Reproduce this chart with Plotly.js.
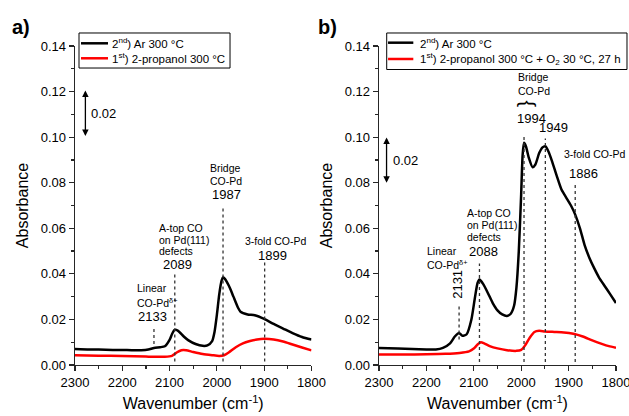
<!DOCTYPE html>
<html><head><meta charset="utf-8">
<script src="https://cdn.plot.ly/plotly-3.0.1.min.js"></script>
<style>html,body{margin:0;padding:0;background:#fff}#chart{width:629px;height:416px}</style>
</head><body><div id="chart"></div>
<script>
// ---- Panel a data ----
const wnA_black = [2300,2270,2250,2220,2200,2180,2160,2145,2133,2120,2110,2100,2095,2089,2082,2070,2060,2045,2030,2020,2010,2005,2000,1995,1990,1987,1983,1979,1972,1965,1955,1950,1935,1920,1900,1880,1860,1840,1820,1800];
const absA_black = [0.0070,0.0068,0.0068,0.0066,0.0066,0.0065,0.0065,0.0068,0.0075,0.0078,0.0082,0.0110,0.0135,0.0155,0.0150,0.0125,0.0108,0.0092,0.0084,0.0086,0.0105,0.0145,0.0220,0.0310,0.0370,0.0385,0.0378,0.0365,0.0336,0.0300,0.0250,0.0234,0.0222,0.0218,0.0202,0.0180,0.0160,0.0140,0.0123,0.0112];
const wnA_red = [2300,2250,2200,2150,2110,2095,2085,2075,2065,2050,2030,2010,1995,1985,1975,1960,1945,1930,1915,1900,1880,1860,1840,1820,1800];
const absA_red = [0.0043,0.0041,0.0040,0.0037,0.0036,0.0040,0.0055,0.0065,0.0065,0.0057,0.0048,0.0043,0.0040,0.0043,0.0055,0.0078,0.0095,0.0105,0.0112,0.0115,0.0112,0.0103,0.0090,0.0077,0.0064];

// ---- Panel b data ----
const wnB_black = [2300,2260,2230,2200,2180,2165,2150,2140,2131,2124,2115,2105,2098,2092,2088,2080,2070,2060,2050,2040,2030,2022,2015,2010,2005,2000,1997,1994,1990,1984,1976,1970,1962,1955,1949,1942,1935,1925,1915,1905,1895,1886,1876,1866,1856,1846,1836,1825,1812,1800];
const absB_black = [0.0075,0.0072,0.0070,0.0068,0.0068,0.0075,0.0095,0.0125,0.0140,0.0128,0.0135,0.0200,0.0290,0.0360,0.0375,0.0355,0.0315,0.0272,0.0240,0.0222,0.0215,0.0225,0.0260,0.0340,0.0500,0.0750,0.0920,0.0975,0.0960,0.0910,0.0868,0.0880,0.0930,0.0955,0.0960,0.0935,0.0895,0.0830,0.0770,0.0735,0.0700,0.0660,0.0600,0.0525,0.0470,0.0425,0.0385,0.0350,0.0310,0.0272];
const wnB_red = [2300,2250,2200,2160,2130,2110,2100,2092,2085,2078,2065,2050,2030,2010,2000,1992,1982,1972,1962,1950,1930,1910,1890,1870,1850,1830,1815,1800];
const absB_red = [0.0046,0.0046,0.0047,0.0049,0.0053,0.0060,0.0072,0.0090,0.0100,0.0095,0.0082,0.0073,0.0065,0.0062,0.0066,0.0085,0.0120,0.0145,0.0150,0.0147,0.0145,0.0143,0.0137,0.0125,0.0108,0.0093,0.0083,0.0076];

// ---- Legend names ----
const namesA = ["2<sup>nd</sup>) Ar 300 °C", "1<sup>st</sup>) 2-propanol 300 °C"];
const namesB = ["2<sup>nd</sup>) Ar 300 °C", "1<sup>st</sup>) 2-propanol 300 °C + O<sub>2</sub> 30 °C, 27 h"];
const seriesColors = ['#000000', '#ff0000'];

// ---- Peak marker lines (wavenumber, top, bottom) ----
const peaksA = [2133, 2089, 1987, 1899];
const peakTopA = [0.0165, 0.0400, 0.0697, 0.0453];
const peakBotA = [0.0092, 0.0015, 0.0015, 0.0015];
const peaksB = [2131, 2088, 1994, 1949, 1886];
const peakTopB = [0.0258, 0.0446, 0.1009, 0.0994, 0.0800];
const peakBotB = [0.0112, 0.0013, 0.0013, 0.0013, 0.0013];

const xTickVals = [2300, 2200, 2100, 2000, 1900, 1800];

const FONT = "'Liberation Sans', Arial, sans-serif";
const lineStyle = (c) => ({color: c, width: 2.5, shape: 'spline', smoothing: 0.6});

const traces = [
  {x: wnA_black, y: absA_black, xaxis: 'x', yaxis: 'y', mode: 'lines', line: lineStyle(seriesColors[0]), name: namesA[0], showlegend: false},
  {x: wnA_red, y: absA_red, xaxis: 'x', yaxis: 'y', mode: 'lines', line: lineStyle(seriesColors[1]), name: namesA[1], showlegend: false},
  {x: wnB_black, y: absB_black, xaxis: 'x2', yaxis: 'y2', mode: 'lines', line: lineStyle(seriesColors[0]), name: namesB[0], showlegend: false},
  {x: wnB_red, y: absB_red, xaxis: 'x2', yaxis: 'y2', mode: 'lines', line: lineStyle(seriesColors[1]), name: namesB[1], showlegend: false}
];

const axCol = '#262626';
function xAxis(dom, anchor) {
  return {domain: dom, anchor: anchor, range: [2300, 1800], tickvals: xTickVals, automargin: false, ticklabeloverflow: 'allow',
    showline: true, linecolor: axCol, linewidth: 1.3, ticks: 'outside', ticklen: 5, tickwidth: 1.2, tickcolor: axCol,
    minor: {ticks: 'outside', ticklen: 3, tickwidth: 1.2, tickcolor: axCol, dtick: 50, tick0: 1800, showgrid: false},
    showgrid: false, zeroline: false, tickfont: {size: 13, family: FONT, color: '#000'},
    title: {text: 'Wavenumber (cm<sup>-1</sup>)', font: {size: 16, family: FONT, color: '#000'}, standoff: 9}};
}
function yAxis(dom, anchor) {
  return {domain: dom, anchor: anchor, range: [0, 0.14], dtick: 0.02, tick0: 0, tickformat: '.2f', automargin: false, ticklabeloverflow: 'allow',
    showline: true, linecolor: axCol, linewidth: 1.3, ticks: 'outside', ticklen: 5, tickwidth: 1.2, tickcolor: axCol,
    minor: {ticks: 'outside', ticklen: 3, tickwidth: 1.2, tickcolor: axCol, dtick: 0.01, showgrid: false},
    showgrid: false, zeroline: false, tickfont: {size: 13, family: FONT, color: '#000'},
    title: {text: 'Absorbance', font: {size: 16, family: FONT, color: '#000'}, standoff: 8}};
}

const shapes = [];
peaksA.forEach((p, i) => shapes.push({type: 'line', xref: 'x', yref: 'y', x0: p, x1: p, y0: peakBotA[i], y1: peakTopA[i], line: {color: '#333', width: 1.3, dash: 'dot'}}));
peaksB.forEach((p, i) => shapes.push({type: 'line', xref: 'x2', yref: 'y2', x0: p, x1: p, y0: peakBotB[i], y1: peakTopB[i], line: {color: '#333', width: 1.3, dash: 'dot'}}));

const annotations = [];
function lab(xr, yr, x, y, text, size, anchor, angle) {
  annotations.push({xref: xr, yref: yr, x: x, y: y, text: text, showarrow: false, xanchor: anchor || 'left', yanchor: 'middle',
    textangle: angle || 0, font: {size: size, family: FONT, color: '#000'}});
}

// ---- Manual legends (paper coords) ----
function legendBox(x0, x1, y0, y1, lx0, lx1, rowsY, tx, names) {
  shapes.push({type: 'rect', xref: 'paper', yref: 'paper', x0: x0, x1: x1, y0: y0, y1: y1, line: {color: '#000', width: 1}, fillcolor: '#fff', layer: 'above'});
  rowsY.forEach((ry, i) => {
    shapes.push({type: 'line', xref: 'paper', yref: 'paper', x0: lx0, x1: lx1, y0: ry, y1: ry, line: {color: seriesColors[i], width: 2.5}, layer: 'above'});
    lab('paper', 'paper', tx, ry, names[i], 11.5);
  });
}
legendBox(0.1256, 0.3657, 0.8365, 0.9207, 0.1288, 0.1717, [0.8959, 0.8599], 0.1750, namesA);
legendBox(0.6148, 0.9968, 0.8329, 0.9207, 0.6169, 0.6571, [0.8974, 0.8582], 0.6645, namesB);

// panel a labels
lab('x','y',2173,0.0336,'Linear',10.5);
lab('x','y',2173,0.0274,'CO-Pd<sup>δ+</sup>',10.5);
lab('x','y',2171,0.0213,'2133',13);
lab('x','y',2127,0.0601,'A-top CO',10.5);
lab('x','y',2127,0.0550,'on Pd(111)',10.5);
lab('x','y',2127,0.0502,'defects',10.5);
lab('x','y',2119,0.0439,'2089',13);
lab('x','y',2019,0.0864,'Bridge',10.5);
lab('x','y',2019,0.0807,'CO-Pd',10.5);
lab('x','y',2015,0.0748,'1987',13);
lab('x','y',1945,0.0544,'3-fold CO-Pd',10.5);
lab('x','y',1917,0.0480,'1899',13);
// panel b labels
lab('x2','y2',2203,0.0500,'Linear',10.5);
lab('x2','y2',2203,0.0439,'CO-Pd<sup>δ+</sup>',10.5);
lab('x2','y2',2136,0.0355,'2131',13,'center',-90);
lab('x2','y2',2119,0.0667,'A-top CO',10.5);
lab('x2','y2',2119,0.0613,'on Pd(111)',10.5);
lab('x2','y2',2119,0.0561,'defects',10.5);
lab('x2','y2',2115,0.0497,'2088',13);
lab('x2','y2',2011,0.1263,'Bridge',10.5);
lab('x2','y2',2011,0.1202,'CO-Pd',10.5);
lab('x2','y2',1990.5,0.1149,'}',20,'center',-90);
lab('x2','y2',2013,0.1080,'1994',13);
lab('x2','y2',1967,0.1042,'1949',13);
lab('x2','y2',1913,0.0927,'3-fold CO-Pd',10.5);
lab('x2','y2',1903,0.0842,'1886',13);
// scale arrows
annotations.push({xref:'x', yref:'y', axref:'x', ayref:'y', x: 2278, y: 0.1205, ax: 2278, ay: 0.0999, text: '', showarrow: true, arrowside: 'end+start', arrowhead: 2, arrowsize: 1, arrowwidth: 1.3, arrowcolor: '#000'});
lab('x','y',2270,0.1102,'0.02',13);
annotations.push({xref:'x2', yref:'y2', axref:'x2', ayref:'y2', x: 2284, y: 0.0998, ax: 2284, ay: 0.0793, text: '', showarrow: true, arrowside: 'end+start', arrowhead: 2, arrowsize: 1, arrowwidth: 1.3, arrowcolor: '#000'});
lab('x2','y2',2275,0.0897,'0.02',13);
// panel letters
annotations.push({xref:'paper', yref:'paper', x: 0.0334, y: 0.935, text: '<b>a)</b>', showarrow: false, xanchor: 'center', yanchor: 'middle', font: {size: 20, family: FONT, color: '#000'}});
annotations.push({xref:'paper', yref:'paper', x: 0.52, y: 0.935, text: '<b>b)</b>', showarrow: false, xanchor: 'center', yanchor: 'middle', font: {size: 20, family: FONT, color: '#000'}});

const layout = {
  width: 629, height: 416, margin: {l: 0, r: 0, t: 0, b: 0},
  paper_bgcolor: '#fff', plot_bgcolor: '#fff',
  font: {family: FONT, color: '#000'},
  showlegend: false,
  xaxis: xAxis([0.1192, 0.4952], 'y'),
  yaxis: yAxis([0.1226, 0.8894], 'x'),
  xaxis2: xAxis([0.6025, 0.9793], 'y2'),
  yaxis2: yAxis([0.1226, 0.8894], 'x2'),
  shapes: shapes, annotations: annotations
};

Plotly.newPlot('chart', traces, layout, {staticPlot: true, displayModeBar: false});
</script></body></html>
